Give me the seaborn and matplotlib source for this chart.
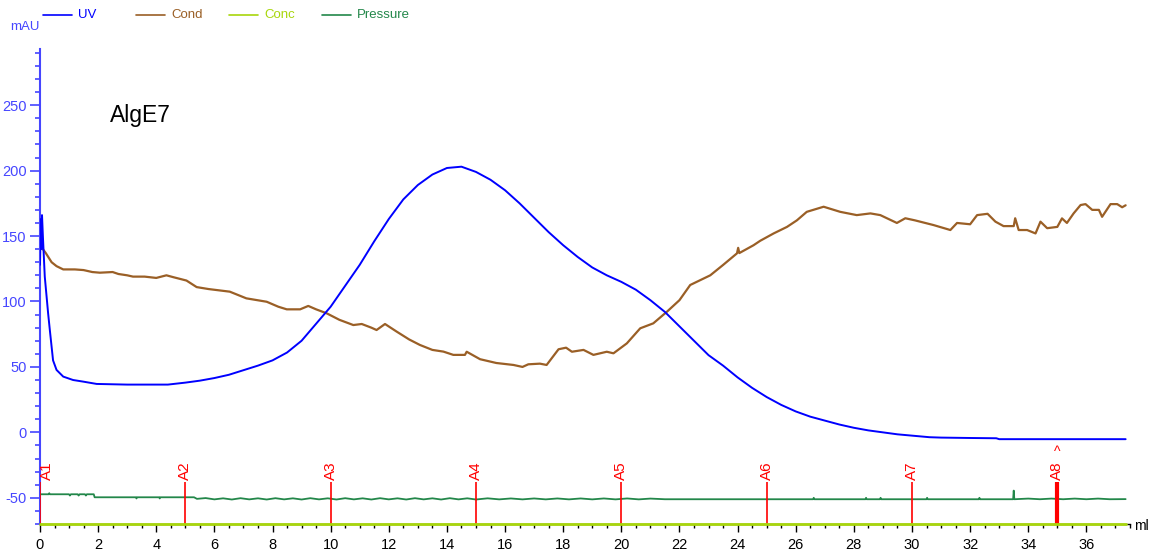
import matplotlib
matplotlib.use("Agg")
import matplotlib.pyplot as plt
from matplotlib.lines import Line2D
from matplotlib.ticker import MultipleLocator
import pandas as pd
import seaborn as sns

# ---- chromatogram traces (elution volume in ml) ----
uv_ml = [0.0, 0.03, 0.05, 0.07, 0.1, 0.165, 0.28, 0.34, 0.45, 0.57, 0.8, 1.14, 1.48, 1.95, 3.0,
         4.4, 5.0, 5.5, 6.0, 6.5, 7.0, 7.5, 8.0, 8.5, 9.0, 9.5, 10.0, 10.5, 11.0, 11.5, 12.0,
         12.5, 13.0, 13.5, 14.0, 14.5, 15.0, 15.5, 16.0, 16.5, 17.0, 17.5, 18.0, 18.5, 19.0,
         19.5, 20.0, 20.5, 21.0, 21.5, 22.0, 22.5, 23.0, 23.5, 24.0, 24.5, 25.0, 25.5, 26.0,
         26.5, 27.0, 27.5, 28.0, 28.5, 29.0, 29.5, 30.0, 30.6, 31.0, 32.0, 32.9, 33.0, 37.35]
uv_mau = [128, 163, 140, 166, 150, 119, 91, 78, 55, 47.7, 42.6, 40, 38.8, 37, 36.5,
          36.5, 38, 39.5, 41.5, 44, 47.5, 51, 55, 61, 70, 83, 96, 112, 128, 146, 163,
          178, 189, 197, 202, 203, 199, 193, 185, 175, 164, 153, 143, 134, 126,
          120, 115, 109, 101, 92, 81, 70, 59, 51, 42, 34, 27, 21, 16,
          12, 9, 6, 3.5, 1.5, 0, -1.5, -2.5, -3.7, -4, -4.3, -4.5, -5.2, -5.2]

cond_ml = [0.0, 0.1, 0.2, 0.4, 0.57, 0.8, 1.2, 1.5, 1.8, 2.06,
           2.5, 2.7, 3.0, 3.2, 3.6, 4.0, 4.35, 4.6, 5.04, 5.39,
           5.8, 6.53, 7.1, 7.8, 8.2, 8.49, 8.95, 9.23, 9.5, 9.86,
           10.3, 10.78, 11.07, 11.4, 11.58, 11.87, 12.27, 12.7, 13.07, 13.5,
           13.88, 14.22, 14.62, 14.68, 15.14, 15.7, 16.29, 16.6, 16.8, 17.2,
           17.43, 17.84, 18.1, 18.3, 18.7, 19.04, 19.5, 19.73, 20.19, 20.65,
           21.1, 21.57, 22.0, 22.37, 23.06, 23.5, 23.98, 24.02, 24.06, 24.55,
           24.78, 25.24, 25.7, 26.04, 26.38, 26.96, 27.53, 28.1, 28.57, 28.91,
           29.48, 29.77, 30.1, 30.74, 31.32, 31.55, 32.0, 32.24, 32.6, 32.87,
           33.15, 33.5, 33.55, 33.67, 33.96, 34.25, 34.42, 34.65, 35.0, 35.16,
           35.33, 35.56, 35.8, 35.97, 36.2, 36.43, 36.54, 36.83, 37.06, 37.23,
           37.35]
cond_val = [147, 140, 137, 130, 127, 124.5, 124.5, 124, 122.5, 122,
            122.5, 121, 120, 119, 119, 118, 120, 118.5, 116, 111,
            109.5, 107.5, 102.4, 99.8, 96, 94, 94, 96.6, 94, 91,
            86, 82, 82.8, 80, 78.2, 82.8, 77, 71, 66.8, 63,
            61.7, 59.2, 59.2, 61.6, 55.9, 53, 51.5, 50, 52, 52.5,
            51.5, 63.5, 64.7, 61.6, 63, 59.2, 61.6, 60.4, 68, 79.5,
            83.3, 92.2, 101, 112.6, 120, 127.9, 136.8, 141, 137, 143,
            146.4, 152, 157, 162, 168.5, 172.4, 168.5, 166, 167.3, 166,
            160, 163.6, 162, 158.4, 154.6, 160, 159, 166, 167, 161,
            157.6, 157.6, 163.6, 154.6, 154.6, 152, 161, 156, 157, 163.5,
            160, 167.3, 173.7, 174.4, 170, 170, 164.7, 174.4, 174.4, 172,
            173.5]

pressure_ml = [0.0, 0.3, 0.32, 0.34, 1.0, 1.03, 1.06, 1.3, 1.33, 1.36, 1.55, 1.58, 1.61, 1.85,
               1.88, 3.3, 3.32, 3.34, 4.1, 4.12, 4.14, 5.3, 5.4,
               5.7, 6.0, 6.3, 6.6, 6.9, 7.2, 7.5, 7.8, 8.1, 8.4, 8.7, 9.0, 9.3, 9.6, 9.9,
               10.2, 10.5, 10.8, 11.1, 11.4, 11.7, 12.0, 12.3, 12.6, 12.9, 13.2, 13.5, 13.8,
               14.1, 14.4, 14.7, 15.0, 15.4, 15.8, 16.2, 16.6, 17.0, 17.4, 17.8, 18.2, 18.6,
               19.0, 19.4, 19.8, 20.2, 20.6, 21.0, 21.5, 22.0,
               26.6, 26.62, 26.64, 28.4, 28.42, 28.44, 28.9, 28.92, 28.94, 30.5, 30.52, 30.54,
               32.3, 32.32, 32.34, 33.48, 33.5, 33.52,
               34.0, 34.4, 34.8, 35.2, 35.6, 36.0, 36.4, 36.8, 37.35]
pressure_val = [-47.3, -47.3, -46.5, -47.3, -47.3, -48.3, -47.3, -47.3, -48.3, -47.3, -47.3, -48.3, -47.3, -47.3,
                -49.6, -49.6, -50.5, -49.6, -49.6, -50.5, -49.6, -49.6, -50.8,
                -50.2, -51.2, -50.4, -51.3, -50.3, -51.2, -50.4, -51.3, -50.3, -51.2, -50.4, -51.3, -50.3, -51.2, -50.4,
                -51.3, -50.3, -51.2, -50.4, -51.3, -50.3, -51.2, -50.4, -51.3, -50.3, -51.2, -50.4, -51.3,
                -50.3, -51.2, -50.4, -51.3, -50.4, -51.2, -50.5, -51.2, -50.5, -51.2, -50.5, -51.2, -50.5,
                -51.2, -50.5, -51.2, -50.5, -51.2, -50.6, -51.1, -51.1,
                -51.1, -50.0, -51.1, -51.1, -50.0, -51.1, -51.1, -50.0, -51.1, -51.1, -50.0, -51.1,
                -51.1, -50.0, -51.1, -51.1, -44.5, -51.1,
                -50.6, -51.1, -50.6, -51.1, -50.6, -51.1, -50.6, -51.1, -51.0]

conc_ml = [0.0, 37.35]
conc_pct = [0.0, 0.0]

fraction_ml = [0, 5, 10, 15, 20, 25, 30, 35]
fraction_labels = ["A1", "A2", "A3", "A4", "A5", "A6", "A7", "A8"]
injection_ml = [35]

series_names = ["UV", "Cond", "Conc", "Pressure"]
series_colors = ["#0000ff", "#9a5f26", "#a8d60c", "#23874a"]
sample_name = "AlgE7"

AXIS_BLUE = "#4646ff"

sns.set_style("ticks")
plt.rcParams["font.family"] = ["Liberation Sans", "DejaVu Sans"]
plt.rcParams["axes.unicode_minus"] = False

fig = plt.figure(figsize=(11.52, 5.55), dpi=100)
ax = fig.add_axes([0.0347, 0.0559, 0.9462, 0.856])

uv = pd.DataFrame({"ml": uv_ml, "value": uv_mau})
cond = pd.DataFrame({"ml": cond_ml, "value": cond_val})
pres = pd.DataFrame({"ml": pressure_ml, "value": pressure_val})
conc = pd.DataFrame({"ml": conc_ml, "value": conc_pct})

sns.lineplot(data=pres, x="ml", y="value", ax=ax, color=series_colors[3], lw=1.3,
             sort=False, estimator=None, zorder=3)
sns.lineplot(data=cond, x="ml", y="value", ax=ax, color=series_colors[1], lw=1.6,
             sort=False, estimator=None, zorder=4)
sns.lineplot(data=uv, x="ml", y="value", ax=ax, color=series_colors[0], lw=1.4,
             sort=False, estimator=None, zorder=5)

# fraction marks
widths = [1.2] * (len(fraction_ml) - 1) + [3.0]
ax.vlines(fraction_ml, -70, -38, colors="#ff0000", linewidths=widths, zorder=6)
for x, lab in zip(fraction_ml, fraction_labels):
    ax.text(x, -36.5, lab, rotation=90, ha="left" if x == 0 else "center", va="bottom",
            color="#ff0000", fontsize=11, zorder=7)
for x in injection_ml:
    ax.text(x, -15, "^", ha="center", va="center", color="#ff0000", fontsize=10, zorder=7)

ax.set_xlim(0, 37.5)
ax.set_ylim(-70, 293)
ax.set_xlabel("")
ax.set_ylabel("")

ax.xaxis.set_major_locator(MultipleLocator(2))
ax.xaxis.set_minor_locator(MultipleLocator(0.5))
ax.yaxis.set_major_locator(MultipleLocator(50))
ax.yaxis.set_minor_locator(MultipleLocator(10))
ax.tick_params(axis="x", which="major", length=5.8, width=1, color="black",
               labelsize=10.5, pad=4.5, labelcolor="black")
ax.tick_params(axis="x", which="minor", length=3.2, width=1, color="black")
ax.tick_params(axis="y", which="major", length=7.2, width=1.2, color=AXIS_BLUE,
               labelsize=10.5, pad=2.5, labelcolor=AXIS_BLUE)
ax.tick_params(axis="y", which="minor", length=3.6, width=1.2, color=AXIS_BLUE)

for side in ("top", "right"):
    ax.spines[side].set_visible(False)
ax.spines["left"].set_color(AXIS_BLUE)
ax.spines["left"].set_linewidth(1.5)
ax.spines["bottom"].set_color("black")
ax.spines["bottom"].set_linewidth(1.0)

# concentration trace on its own 0-100 % scale
ax2 = ax.twinx()
sns.lineplot(data=conc, x="ml", y="value", ax=ax2, color=series_colors[2], lw=2.0,
             sort=False, estimator=None)
ax2.set_xlim(0, 37.5)
ax2.set_ylim(0, 100)
ax2.set_axis_off()
for ln in ax2.lines:
    ln.set_clip_on(False)

ax.text(2.4, 237, sample_name, fontsize=16.5, color="black", va="baseline", ha="left")

# header legend and unit labels
W, H = 1152, 555
for i, (name, col) in enumerate(zip(series_names, series_colors)):
    x0 = 43 + 93 * i
    fig.add_artist(Line2D([x0 / W, (x0 + 29) / W], [1 - 15 / H, 1 - 15 / H],
                          color=col, lw=1.2, transform=fig.transFigure))
    fig.text((x0 + 35) / W, 1 - 15 / H, name, color=col, fontsize=9.5,
             ha="left", va="center")
fig.text(25 / W, 1 - 27 / H, "mAU", color=AXIS_BLUE, fontsize=9.5, ha="center", va="center")
fig.text(1141 / W, 1 - 526 / H, "ml", color="black", fontsize=10, ha="center", va="center")

fig.savefig("out.png", dpi=100)
